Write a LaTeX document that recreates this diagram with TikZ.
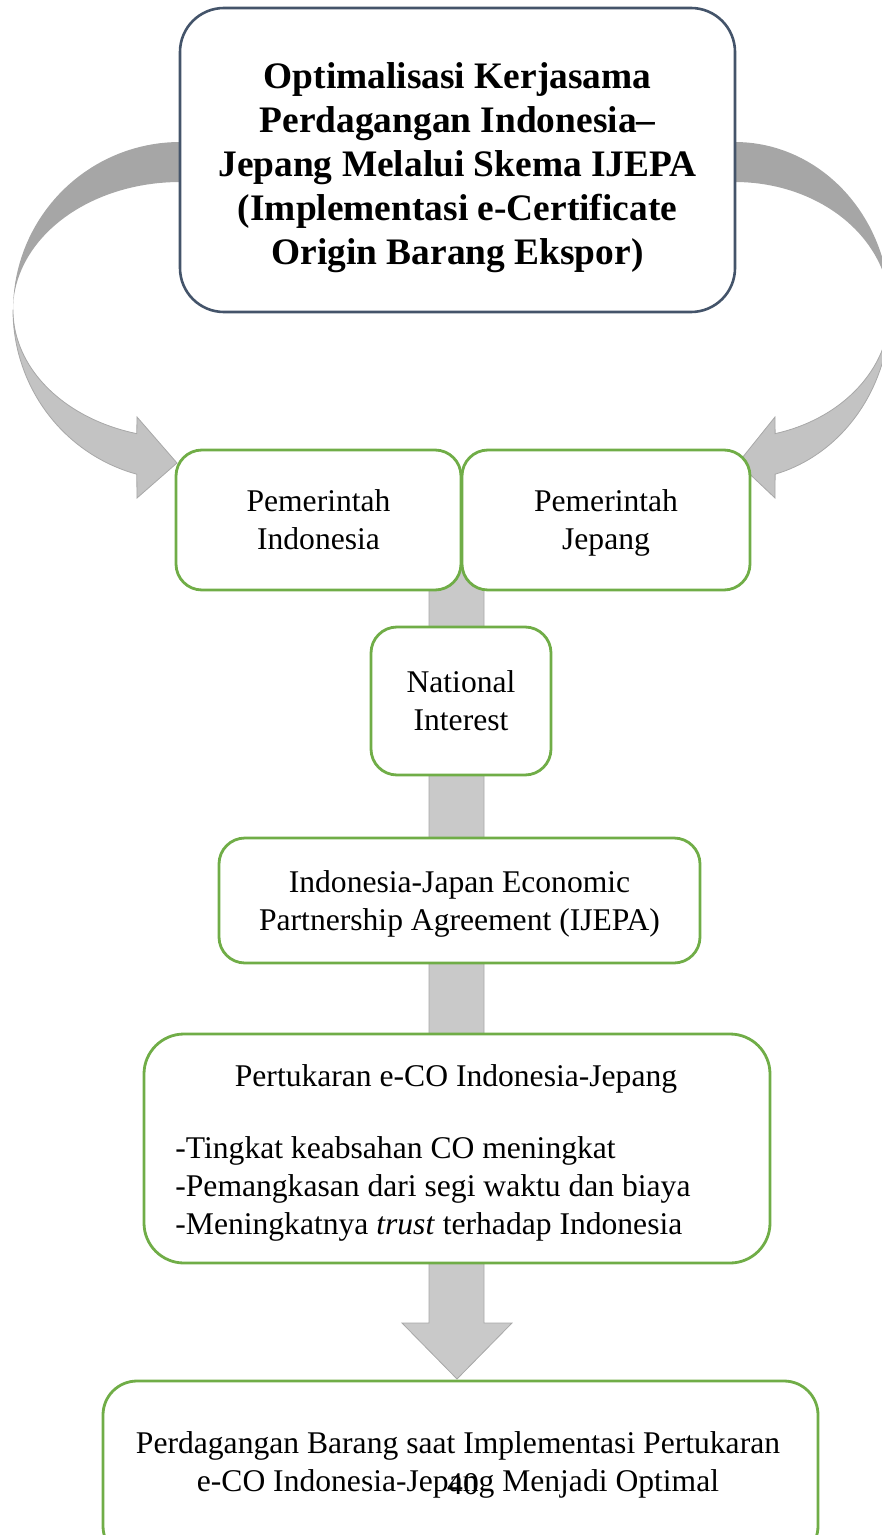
\documentclass[tikz,border=0pt]{standalone}
\usepackage{fontspec}
\setmainfont{Liberation Serif}
\definecolor{judulbiru}{HTML}{44546A}
\definecolor{hijau}{HTML}{70AD47}
\definecolor{abutua}{HTML}{A6A6A6}
\definecolor{abumuda}{HTML}{C3C3C3}
\definecolor{batang}{HTML}{C9C9C9}
\definecolor{abugaris}{HTML}{A8A8A8}
\tikzset{
  judul/.style={draw=judulbiru,line width=1.3pt,fill=white,rounded corners=22pt},
  kotak/.style={draw=hijau,line width=1.4pt,fill=white,rounded corners=13pt,align=center,text depth=0pt,font=\fontsize{15.8}{19}\selectfont},
  teks/.style={font=\fontsize{15.8}{19}\selectfont,inner sep=0pt},
  panahtua/.style={fill=abutua},
  panahmuda/.style={fill=abumuda,draw=abugaris,line width=0.4pt},
}
\begin{document}
\begin{tikzpicture}[x=0.5pt,y=-0.5pt]
\clip (0,0) rectangle (882,1535);
% panah lengkung kiri
\fill[panahtua] (200,142) -- plot[domain=270:180,samples=40,variable=\t] ({180+167*cos(\t)},{310+168*sin(\t)}) -- plot[domain=180:270,samples=40,variable=\t] ({180+167*cos(\t)},{310+128*sin(\t)}) -- (200,182) -- cycle;
\filldraw[panahmuda] plot[domain=180:105,samples=40,variable=\t] ({180+167*cos(\t)},{310+170*sin(\t)}) -- (137,498) -- (177,463) -- (137,417) -- plot[domain=105:180,samples=40,variable=\t] ({180+167*cos(\t)},{310+128*sin(\t)}) -- cycle;
% panah lengkung kanan
\fill[panahtua] (715,142) -- plot[domain=270:360,samples=40,variable=\t] ({735+155*cos(\t)},{310+168*sin(\t)}) -- plot[domain=360:270,samples=40,variable=\t] ({735+155*cos(\t)},{310+128*sin(\t)}) -- (715,182) -- cycle;
\filldraw[panahmuda] plot[domain=0:75,samples=40,variable=\t] ({735+155*cos(\t)},{310+170*sin(\t)}) -- (775,498) -- (738,463) -- (775,417) -- plot[domain=75:0,samples=40,variable=\t] ({735+155*cos(\t)},{310+128*sin(\t)}) -- cycle;
% batang tengah
\filldraw[panahmuda,fill=batang] (429,560) -- (484,560) -- (484,1323) -- (512,1323) -- (457,1379) -- (402,1323) -- (429,1323) -- cycle;

\node[judul,minimum width=277.5pt,minimum height=152pt] (judul) at (457.5,160) {};
\node[inner sep=0pt,align=center,font=\fontsize{18.7}{22}\selectfont\bfseries] (judulteks) at (457.5,168) {Optimalisasi Kerjasama\\Perdagangan Indonesia–\\Jepang Melalui Skema IJEPA\\(Implementasi e-Certificate\\Origin Barang Ekspor)};
\node[kotak,minimum width=142.5pt,minimum height=70pt] (pemindo) at (318.5,520) {Pemerintah\\Indonesia};
\node[kotak,minimum width=144pt,minimum height=70pt] (pemjepang) at (606,520) {Pemerintah\\Jepang};
\node[kotak,minimum width=90pt,minimum height=74pt] (nasional) at (461,701) {National\\Interest};
\node[kotak,minimum width=240.5pt,minimum height=62.5pt] (ijepa) at (459.5,900.5) {Indonesia-Japan Economic\\Partnership Agreement (IJEPA)};
\node[kotak,rounded corners=20pt,minimum width=313pt,minimum height=114.5pt] (pertukaran) at (457,1148.5) {};
\node[teks] (eco) at (456,1079) {Pertukaran e-CO Indonesia-Jepang};
\node[teks,align=left,anchor=west] (manfaat) at (175,1189) {-Tingkat keabsahan CO meningkat\\-Pemangkasan dari segi waktu dan biaya\\-Meningkatnya \textit{trust} terhadap Indonesia};
\node[kotak,rounded corners=17pt,minimum width=357.5pt,minimum height=89.5pt] (akhir) at (460.5,1470.5) {};
\node[teks,align=center] (akhirteks) at (458,1465) {Perdagangan Barang saat Implementasi Pertukaran\\e-CO Indonesia-Jepang Menjadi Optimal};
\node[teks] (halaman) at (463,1484) {40};
\end{tikzpicture}
\end{document}
